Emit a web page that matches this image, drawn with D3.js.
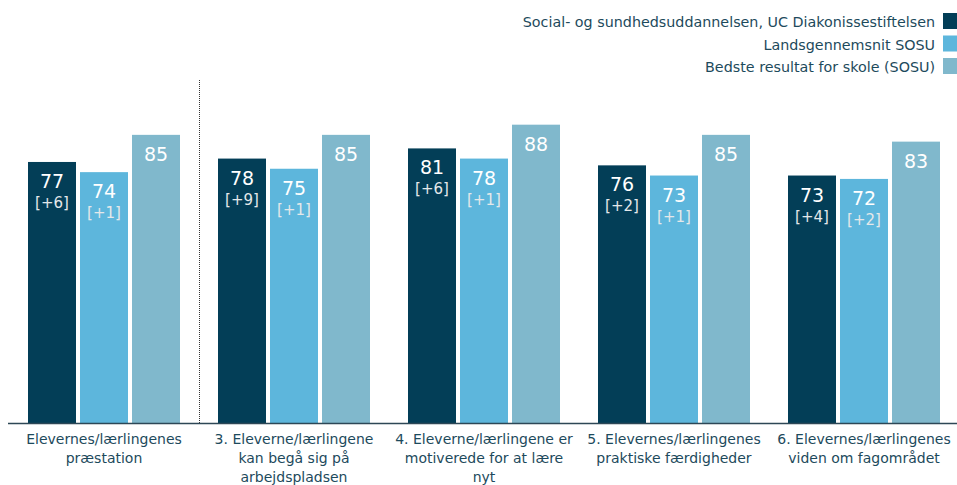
<!DOCTYPE html>
<html><head><meta charset="utf-8">
<script src="https://cdn.jsdelivr.net/npm/d3@7"></script>
<style>body{margin:0;background:#fff}svg{display:block}text{font-family:"DejaVu Sans",Verdana,sans-serif}</style>
</head><body>
<svg id="c" width="957" height="485"></svg>
<script>
const categories = [
  ["Elevernes/lærlingenes","præstation"],
  ["3. Eleverne/lærlingene","kan begå sig på","arbejdspladsen"],
  ["4. Eleverne/lærlingene er","motiverede for at lære","nyt"],
  ["5. Elevernes/lærlingenes","praktiske færdigheder"],
  ["6. Elevernes/lærlingenes","viden om fagområdet"]
];
const seriesNames = ["Social- og sundhedsuddannelsen, UC Diakonissestiftelsen","Landsgennemsnit SOSU","Bedste resultat for skole (SOSU)"];
const school = [77, 78, 81, 76, 73];
const schoolDelta = ["[+6]","[+9]","[+6]","[+2]","[+4]"];
const national = [74, 75, 78, 73, 72];
const nationalDelta = ["[+1]","[+1]","[+1]","[+1]","[+2]"];
const best = [85, 85, 88, 85, 83];
const colors = ["#033e57","#5db6dc","#80b8cc"];

const svg = d3.select("#c");
const x = d3.scaleBand().domain(d3.range(categories.length)).range([9, 959]).paddingInner(0.2).paddingOuter(0.1);
const xs = d3.scaleBand().domain([0,1,2]).range([0, x.bandwidth()]).paddingInner(4/52).paddingOuter(0);
const y = d3.scaleLinear().domain([0,100]).range([423, 84]);

const series = [
  {vals: school, deltas: schoolDelta},
  {vals: national, deltas: nationalDelta},
  {vals: best, deltas: null}
];

// dotted separator
svg.append("line").attr("x1",199.5).attr("x2",199.5).attr("y1",80).attr("y2",y(0))
  .attr("stroke","#333").attr("stroke-width",1).attr("stroke-dasharray","1,1");

series.forEach((s, si) => {
  const g = svg.append("g");
  s.vals.forEach((v, ci) => {
    const bx = x(ci) + xs(si);
    const bw = xs.bandwidth();
    g.append("rect").attr("x", bx).attr("y", y(v)).attr("width", bw).attr("height", y(0)-y(v)).attr("fill", colors[si]);
    g.append("text").attr("x", bx+bw/2).attr("y", y(v)+26).attr("text-anchor","middle")
      .attr("fill","#fff").style("font-size","19px").text(v);
    if (s.deltas) {
      g.append("text").attr("x", bx+bw/2).attr("y", y(v)+46).attr("text-anchor","middle")
        .attr("fill","#e4e8ea").style("font-size","15px").text(s.deltas[ci]);
    }
  });
});

// axis
const axis = d3.axisBottom(x).tickSize(0).tickFormat("");
const ag = svg.append("g").attr("transform",`translate(0,${y(0)})`).call(axis);
ag.select(".domain").attr("stroke","#2d4756").attr("stroke-width",1.5).attr("d","M8,0.5H957");

categories.forEach((lines, ci) => {
  const t = svg.append("text").attr("x", x(ci)+x.bandwidth()/2).attr("y", 444).attr("text-anchor","middle")
    .attr("fill","#1d4a5c").style("font-size","14px");
  lines.forEach((l, li) => t.append("tspan").attr("x", x(ci)+x.bandwidth()/2).attr("dy", li===0?0:19).text(l));
});

// legend
seriesNames.forEach((n, i) => {
  const cy = 21 + i*22.5;
  svg.append("rect").attr("x",943).attr("y",cy-8).attr("width",14).attr("height",16).attr("fill",colors[i]);
  svg.append("text").attr("x",935).attr("y",cy+6).attr("text-anchor","end").attr("fill","#1d4a5c")
    .style("font-size","14.3px").text(n);
});
</script>
</body></html>
